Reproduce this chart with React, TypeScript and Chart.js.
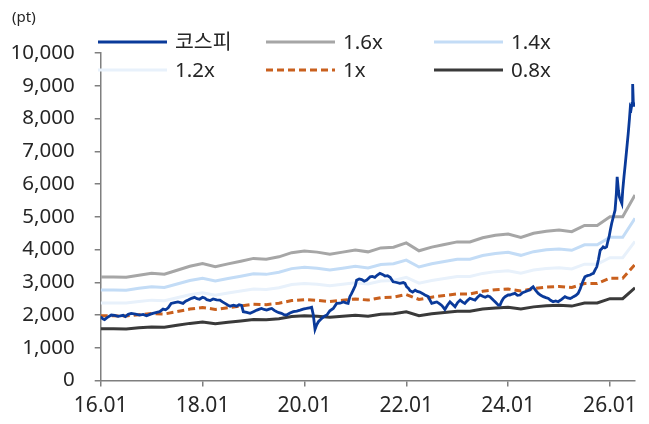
import React, { useEffect, useRef } from 'react';
import { Chart, registerables } from 'chart.js';

Chart.register(...registerables);

// KOSPI index: x = months elapsed since 2016.01, y = index level (pt)
const kospiMonths = [
  0.0, 0.5, 0.9, 1.5, 2.5, 3.3, 4.1, 5.3, 5.8, 6.5, 7.2, 8.2, 9.2, 10.0, 10.8, 11.6,
  12.3, 13.2, 13.9, 14.7, 15.3, 15.9, 16.6, 17.4, 18.2, 18.8, 19.4, 20.0, 20.6, 21.4, 22.1, 22.7,
  23.3, 24.0, 24.5, 25.0, 25.8, 26.5, 27.3, 28.1, 28.7, 29.3, 30.0, 30.5, 31.3, 32.0, 32.6, 33.2,
  33.6, 34.4, 35.2, 36.0, 36.8, 37.4, 37.9, 38.5, 39.1, 39.7, 40.3, 40.9, 41.5, 42.0, 42.6, 43.2,
  43.8, 44.6, 45.4, 46.2, 47.0, 47.7, 48.5, 49.2, 49.7, 50.1, 50.5, 50.9, 51.3, 52.1, 52.7, 53.3,
  54.0, 54.8, 55.6, 56.4, 57.2, 57.8, 58.3, 58.7, 59.1, 59.5, 60.0, 60.3, 60.9, 61.5, 62.1, 62.7,
  63.5, 64.0, 64.6, 65.2, 65.8, 66.4, 67.0, 67.6, 68.2, 68.9, 69.5, 70.5, 71.3, 71.7, 72.1, 72.5,
  72.9, 73.5, 74.1, 74.6, 75.2, 75.8, 76.4, 77.2, 77.6, 78.0, 78.6, 79.2, 79.8, 80.3, 80.7, 81.1,
  81.7, 82.3, 82.9, 83.5, 84.1, 84.7, 85.2, 85.8, 86.4, 87.0, 87.6, 88.2, 88.8, 89.4, 90.0, 90.6,
  91.2, 91.7, 92.5, 93.1, 93.7, 94.1, 94.5, 94.9, 95.3, 96.0, 96.4, 97.0, 97.6, 98.2, 98.8, 99.4,
  100.0, 100.6, 101.1, 101.5, 101.9, 102.5, 103.1, 103.7, 104.3, 104.9, 105.5, 106.0, 106.6, 107.2, 107.8, 108.6,
  109.4, 110.0, 110.6, 111.0, 111.4, 112.0, 112.5, 113.0, 113.3, 113.7, 114.1, 114.7, 115.3, 115.7, 116.1, 116.5,
  116.9, 117.3, 117.7, 118.1, 118.4, 118.8, 119.2, 119.5, 119.8, 120.1, 120.4, 120.8, 121.2, 121.5, 121.7, 122.0,
  122.2, 122.5, 122.8, 123.0, 123.3, 123.6, 123.9, 124.3, 124.6, 124.8, 125.0, 125.2, 125.35, 125.5, 125.7, 125.85,
];
const kospiValues = [
  1950, 1880, 1860, 1920, 2000, 1990, 1960, 1990, 1950, 2020, 2050, 2030, 2000, 2020, 1975, 2020,
  2050, 2080, 2100, 2180, 2160, 2220, 2355, 2380, 2400, 2380, 2355, 2420, 2455, 2510, 2540, 2500,
  2480, 2540, 2520, 2470, 2440, 2490, 2460, 2455, 2400, 2355, 2300, 2270, 2300, 2270, 2310, 2290,
  2100, 2080, 2050, 2100, 2150, 2180, 2200, 2170, 2150, 2180, 2200, 2140, 2100, 2070, 2050, 2010,
  2000, 2060, 2100, 2120, 2150, 2180, 2200, 2220, 2235, 2000, 1560, 1700, 1795, 1900, 1960, 2000,
  2130, 2200, 2355, 2360, 2400, 2370, 2355, 2560, 2650, 2760, 2900, 3065, 3100, 3080, 3030, 3065,
  3165, 3180, 3150, 3220, 3270, 3240, 3190, 3200, 3150, 3015, 3000, 2965, 2990, 2965, 2860, 2820,
  2740, 2700, 2760, 2720, 2700, 2660, 2610, 2560, 2450, 2355, 2380, 2400, 2350, 2300, 2240, 2170,
  2300, 2400, 2330, 2250, 2380, 2455, 2400, 2355, 2440, 2510, 2480, 2455, 2540, 2610, 2570, 2540,
  2580, 2560, 2455, 2380, 2300, 2300, 2420, 2510, 2560, 2610, 2610, 2640, 2660, 2600, 2610, 2680,
  2710, 2740, 2760, 2820, 2860, 2750, 2660, 2600, 2560, 2530, 2505, 2450, 2405, 2430, 2405, 2480,
  2560, 2520, 2505, 2530, 2560, 2600, 2660, 2800, 2915, 3050, 3165, 3200, 3220, 3250, 3270, 3380,
  3470, 3700, 3980, 4030, 4080, 4050, 4080, 4250, 4390, 4600, 4795, 5000, 5200, 5700, 6220, 5800,
  5610, 5500, 5405, 5800, 6220, 6600, 7000, 7540, 8000, 8350, 8300, 8460, 9050, 8500, 8400, 8450,
];

// PBR band base (book value per share, index terms), quarterly from 2016.01
const bandMonths = [
  0, 3, 6, 9, 12, 15, 18, 21, 24, 27, 30, 33, 36, 39, 42, 45, 48, 51, 54, 57,
  60, 63, 66, 69, 72, 75, 78, 81, 84, 87, 90, 93, 96, 99, 102, 105, 108, 111, 114, 117,
  120, 123, 125.9,
];
const bps = [
  1975, 1975, 1970, 2010, 2045, 2030, 2105, 2180, 2230, 2170, 2225, 2275, 2330, 2315, 2360, 2440,
  2470, 2450, 2410, 2450, 2490, 2455, 2530, 2545, 2625, 2475, 2545, 2595, 2645, 2645, 2725, 2770,
  2795, 2730, 2810, 2850, 2870, 2840, 2960, 2960, 3125, 3125, 3540,
];
const bandMultiples = [1.6, 1.4, 1.2, 1, 0.8];
const bandLabels = ['1.6x', '1.4x', '1.2x', '1x', '0.8x'];
const bandColors = ['#a6a6a6', '#c3dcf6', '#e8f1fb', '#c9601e', '#3a3a3a'];

const kospiLabel = '코스피';
const unitLabel = '(pt)';
const xTickMonths = [0, 24, 48, 72, 96, 120];
const xTickLabels = ['16.01', '18.01', '20.01', '22.01', '24.01', '26.01'];
const yTicks = [0, 1000, 2000, 3000, 4000, 5000, 6000, 7000, 8000, 9000, 10000];

const FONT = '"Noto Sans", "Noto Sans CJK KR", sans-serif';
const TEXT = '#262626';
const AXIS = '#7f7f7f';

const legendPlugin = {
  id: 'customLegend',
  afterDraw(chart: any) {
    const ctx = chart.ctx;
    ctx.save();
    // unit label
    ctx.font = `15px ${FONT}`;
    ctx.fillStyle = TEXT;
    ctx.textBaseline = 'middle';
    ctx.textAlign = 'left';
    ctx.fillText(unitLabel, 12, 18);
    // legend
    chart.data.datasets.forEach((ds: any, i: number) => {
      const col = i % 3;
      const row = Math.floor(i / 3);
      const x0 = 98 + col * 168;
      const y = 42 + row * 28;
      ctx.beginPath();
      ctx.setLineDash(ds.borderDash || []);
      ctx.lineWidth = ds.borderWidth;
      ctx.strokeStyle = ds.borderColor;
      ctx.moveTo(x0, y);
      ctx.lineTo(x0 + 69, y);
      ctx.stroke();
      ctx.setLineDash([]);
      ctx.font = `20.5px ${FONT}`;
      ctx.fillStyle = TEXT;
      ctx.fillText(ds.label, x0 + 77, y + 1);
    });
    ctx.restore();
  },
};

export default function App() {
  const ref = useRef<HTMLCanvasElement | null>(null);
  useEffect(() => {
    document.body.style.margin = '0';
    const canvas = ref.current;
    if (!canvas) return;
    const kospiData = kospiMonths.map((m, i) => ({ x: m, y: kospiValues[i] }));
    const bandSets = bandMultiples.map((mult, k) => ({
      label: bandLabels[k],
      data: bandMonths.map((m, i) => ({ x: m, y: bps[i] * mult })),
      borderColor: bandColors[k],
      borderWidth: 3,
      borderDash: bandLabels[k] === '1x' ? [7, 4] : [],
      pointRadius: 0,
      tension: 0,
      fill: false,
    }));
    // order in legend: 코스피, 1.6x, 1.4x / 1.2x, 1x, 0.8x
    const datasets: any[] = [
      {
        label: kospiLabel,
        data: kospiData,
        borderColor: '#0a3a9a',
        borderWidth: 2.8,
        pointRadius: 0,
        tension: 0,
        fill: false,
      },
      ...bandSets,
    ];
    const chart = new Chart(canvas, {
      type: 'line',
      data: { datasets },
      plugins: [legendPlugin],
      options: {
        responsive: false,
        animation: false,
        layout: { padding: { top: 53, right: 14, left: 0, bottom: 0 } },
        plugins: { legend: { display: false }, tooltip: { enabled: false } },
        scales: {
          x: {
            type: 'linear',
            min: 0,
            max: 125.9,
            afterBuildTicks: (s: any) => {
              s.ticks = xTickMonths.map((v) => ({ value: v }));
            },
            afterFit: (s: any) => {
              s.height = 43.5;
            },
            ticks: {
              autoSkip: false,
              maxRotation: 0,
              padding: 7,
              color: TEXT,
              font: { family: FONT, size: 21 },
              callback: (v: any) => {
                const idx = xTickMonths.indexOf(Number(v));
                return idx >= 0 ? xTickLabels[idx] : '';
              },
            },
            grid: { drawOnChartArea: false, drawTicks: true, tickLength: 6, color: AXIS, lineWidth: 1.5 },
            border: { color: AXIS, width: 1.5 },
          },
          y: {
            min: 0,
            max: 10000,
            afterBuildTicks: (s: any) => {
              s.ticks = yTicks.map((v) => ({ value: v }));
            },
            afterFit: (s: any) => {
              s.width = 100.7;
            },
            ticks: {
              padding: 20,
              color: TEXT,
              font: { family: FONT, size: 20.5 },
              callback: (v: any) => Number(v).toLocaleString('en-US'),
            },
            grid: { drawOnChartArea: false, drawTicks: true, tickLength: 6, color: AXIS, lineWidth: 1.5 },
            border: { color: AXIS, width: 1.5 },
          },
        },
      } as any,
    });
    return () => chart.destroy();
  }, []);
  return <canvas ref={ref} width={649} height={424} style={{ display: 'block' }} />;
}
